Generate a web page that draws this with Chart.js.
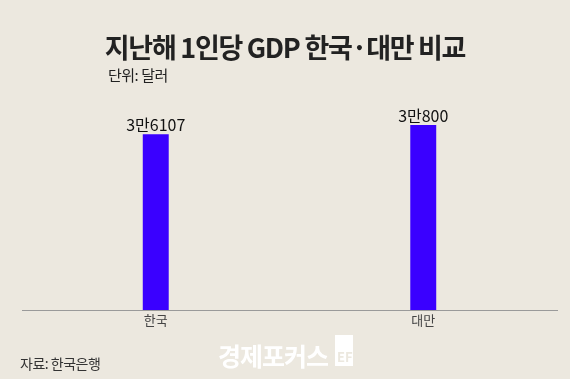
<!DOCTYPE html>
<html><head><meta charset="utf-8">
<script src="https://cdn.jsdelivr.net/npm/chart.js@4"></script>
<style>
html,body{margin:0;padding:0;background:#ece8df;}
#wrap{position:relative;width:570px;height:379px;background:#ece8df;overflow:hidden;font-family:"Noto Sans CJK KR","Noto Sans",sans-serif;}
#c{position:absolute;left:0;top:0;}
.t{position:absolute;white-space:nowrap;}
#title{left:0;width:570px;text-align:center;top:27px;font-size:27px;font-weight:700;color:#222;letter-spacing:-1.3px;}
#sub{left:108px;top:64px;font-size:15px;color:#222;letter-spacing:-0.5px;}
#src{left:20px;top:353px;font-size:14px;color:#333;letter-spacing:-0.5px;}
#wm{left:218px;top:337px;font-size:25px;font-weight:700;color:#ffffff;letter-spacing:-1px;}
#wmbox{position:absolute;left:335px;top:335px;width:18px;height:31px;background:#ffffff;}
#wmbox span{position:absolute;left:2px;top:12px;font-size:13px;font-weight:700;color:#ece8df;}
</style></head>
<body><div id="wrap">
<canvas id="c" width="570" height="379"></canvas>
<div class="t" id="title">지난해 1인당 GDP 한국·대만 비교</div>
<div class="t" id="sub">단위: 달러</div>
<div class="t" id="src">자료: 한국은행</div>
<div class="t" id="wm">경제포커스</div>
<div id="wmbox"><span>EF</span></div>
</div>
<script>
const categories = ['한국', '대만'];
const values = [36107, 38000];
const valueLabels = ['3만6107', '3만800'];

const labelPlugin = {
  id: 'valLabels',
  afterDatasetsDraw(chart) {
    const ctx = chart.ctx;
    const meta = chart.getDatasetMeta(0);
    const xs = chart.scales.x;
    ctx.save();
    ctx.font = '16px "Noto Sans CJK KR", sans-serif';
    ctx.fillStyle = '#111';
    ctx.textAlign = 'center';
    ctx.textBaseline = 'bottom';
    meta.data.forEach((bar, i) => {
      ctx.fillText(valueLabels[i], bar.x, bar.y - 1);
    });
    ctx.font = '13px "Noto Sans CJK KR", sans-serif';
    ctx.fillStyle = '#444';
    ctx.textBaseline = 'middle';
    categories.forEach((c, i) => {
      ctx.fillText(c, xs.getPixelForValue(i), chart.chartArea.bottom + 10);
    });
    ctx.restore();
  }
};

new Chart(document.getElementById('c'), {
  type: 'bar',
  data: {
    labels: categories,
    datasets: [{
      data: values,
      backgroundColor: '#3a00ff',
      borderWidth: 0,
      barPercentage: 0.097,
      categoryPercentage: 1.0
    }]
  },
  options: {
    responsive: false,
    animation: false,
    layout: { padding: { left: 22, right: 13, top: 91, bottom: 61 } },
    plugins: { legend: { display: false }, tooltip: { enabled: false } },
    scales: {
      x: {
        grid: { display: false },
        border: { display: true, color: '#9a9a9a', width: 1 },
        ticks: { display: false }
      },
      y: { display: false, min: 0, max: 45000 }
    }
  },
  plugins: [labelPlugin]
});
</script>
</body></html>
